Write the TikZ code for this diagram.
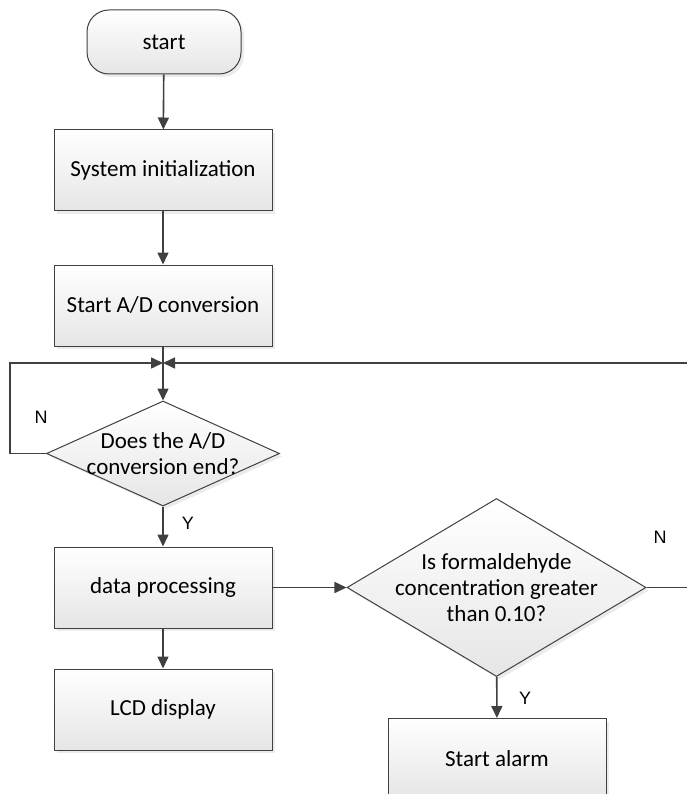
\documentclass[tikz,border=0pt]{standalone}
\usepackage{fontspec}
\setmainfont{Carlito}
\newfontfamily\labfont{Liberation Sans}
\usetikzlibrary{arrows.meta,shapes.geometric,shadows}
\definecolor{linegray}{HTML}{404040}
\tikzset{
  box/.style={draw=linegray, line width=1pt, top color=white, bottom color=gray!20,
    minimum width=218pt, minimum height=81pt, inner sep=0pt,
    drop shadow={shadow xshift=3pt, shadow yshift=-3pt, fill=gray!45, opacity=0.35},
    font=\fontsize{23}{26}\selectfont},
  term/.style={box, rounded corners=22pt, minimum width=154pt, minimum height=64pt},
  decision/.style={diamond, draw=linegray, line width=1pt, top color=white, bottom color=gray!20,
    inner sep=0pt,
    drop shadow={shadow xshift=3pt, shadow yshift=-3pt, fill=gray!45, opacity=0.35}},
  dtext/.style={align=center, inner sep=0pt, font=\fontsize{23}{26}\selectfont},
  flow/.style={draw=linegray, line width=1.6pt, -{Triangle[length=12pt,width=11pt]}},
  lab/.style={font=\labfont\fontsize{18}{20}\selectfont}
}
\begin{document}
\begin{tikzpicture}[x=1pt, y=-1pt]

    \useasboundingbox (0,0) rectangle (687,794);

    \node[term] (start) at (164,42) {start};
    \node[box] (init) at (163,170.5) {System initialization};
    \node[box] (adconv) at (163,305.5) {Start A/D conversion};

    \node[decision, minimum width=233pt, minimum height=105pt] (dec1) at (163,453.5) {};
    \node[dtext] (dec1t) at (dec1) {Does the A/D\\conversion end?};

    \node[box] (proc) at (163,587.5) {data processing};
    \node[box] (lcd) at (163,709.5) {LCD display};

    \node[decision, minimum width=299pt, minimum height=178pt] (dec2) at (496.5,587.5) {};
    \node[dtext] (dec2t) at (dec2) {Is formaldehyde\\concentration greater\\than 0.10?};

    \node[box] (alarm) at (497,759) {Start alarm};

    \coordinate (junc) at (163,363);
    \coordinate (lc) at (10,453.5);
    \coordinate (rc) at (690,587.5);

    \draw[flow] (start) -- (init);
    \draw[flow] (init) -- (adconv);
    \draw[flow] (adconv) -- (dec1);
    \draw[flow] (dec1.west) -- (lc) |- (junc);
    \draw[flow] (dec1) -- (proc);
    \draw[flow] (proc) -- (lcd);
    \draw[flow] (proc) -- (dec2);
    \draw[flow] (dec2) -- (alarm);
    \draw[flow] (dec2.east) -- (rc) |- (junc);

    \node[lab] (n1) at (41,417) {N};
    \node[lab] (y1) at (188,523) {Y};
    \node[lab] (n2) at (660,537) {N};
    \node[lab] (y2) at (525,698) {Y};

\end{tikzpicture}
\end{document}
